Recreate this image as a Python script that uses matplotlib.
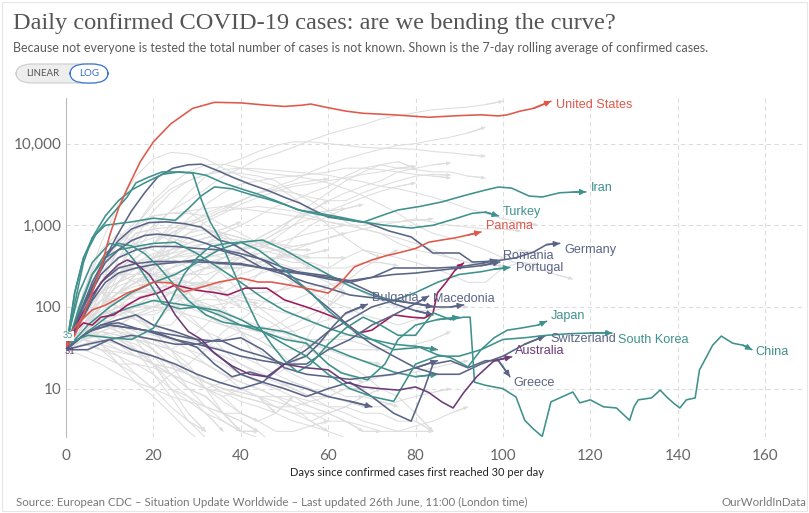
import matplotlib
matplotlib.use("Agg")
import matplotlib.pyplot as plt
from matplotlib.patches import FancyBboxPatch, Rectangle
from matplotlib.ticker import NullLocator

W, H = 809, 513

RED = "#e0584c"
TEAL = "#3f918c"
SLATE = "#5a6486"
PURPLE = "#6c3b78"
CRIMSON = "#a0195b"
GRAY = "#dedede"

# ---- highlighted countries: day since 30/day, 7-day average of confirmed cases ----
us_days = [0, 2, 4, 6, 8, 10, 12, 14, 17, 20, 24, 29, 34, 40, 46, 50, 54, 56, 60, 64, 68, 75, 83, 90, 95, 99, 101, 104, 107, 111]
us_vals = [32, 45, 80, 150, 300, 750, 1600, 2800, 6000, 10500, 17500, 27000, 32000, 31500, 29500, 28500, 29500, 30500,
           27500, 25000, 23500, 22500, 21000, 22000, 22500, 21800, 22500, 25000, 27000, 33000]

pan_days = [0, 1, 3, 6, 9, 11, 14, 17, 20, 24, 27, 31, 35, 40, 44, 47, 51, 56, 60, 63, 66, 70, 73, 76, 80, 83, 86, 89, 92, 95]
pan_vals = [33, 48, 65, 92, 105, 120, 148, 170, 202, 197, 153, 175, 202, 226, 202, 202, 186, 165, 148, 202, 309, 376,
            420, 458, 520, 620, 660, 700, 760, 829]

iran_days = [0, 2, 4, 6, 9, 12, 15, 20, 25, 28, 31, 34, 38, 42, 46, 50, 54, 58, 63, 68, 72, 76, 81, 86, 91, 96, 99, 102,
             106, 109, 113, 116, 119]
iran_vals = [30, 150, 400, 700, 1000, 1050, 1100, 1220, 1150, 1600, 2300, 2950, 2800, 2400, 2100, 1800, 1500, 1350, 1200,
             1090, 1300, 1540, 1700, 1930, 2300, 2700, 2940, 2850, 2280, 2220, 2500, 2550, 2560]

tur_days = [0, 2, 4, 6, 9, 12, 15, 18, 22, 26, 29, 32, 36, 40, 44, 48, 53, 58, 63, 68, 73, 79, 84, 89, 93, 96, 99]
tur_vals = [30, 110, 350, 700, 1300, 2000, 2700, 3300, 4200, 4500, 4400, 4100, 3300, 2800, 2400, 2000, 1550, 1400, 1250,
            1100, 1000, 925, 1000, 1200, 1400, 1450, 1300]

chn_days = [0, 2, 4, 7, 10, 14, 16, 19, 22, 25, 29, 31, 33, 35, 38, 41, 44, 47, 50, 53, 56, 60, 64, 68, 72, 76, 80, 84,
            88, 91, 92.5, 93.5, 96, 100, 103, 105, 107, 109, 111, 113, 116, 117.6, 120, 123, 126, 129, 130, 131, 134,
            136, 137.5, 139, 140.5, 142, 144, 145, 146.6, 148, 150, 152.6, 155, 157]
chn_vals = [30, 150, 400, 800, 1260, 2220, 3300, 3900, 4500, 4500, 4350, 2040, 1100, 720, 300, 130, 60, 35, 22, 16, 20,
            35, 55, 75, 60, 45, 45, 85, 70, 75, 75, 12, 11, 10, 7.9, 4.1, 3.2, 2.6, 6.9, 7.7, 9.1, 6.7, 7.3, 6.0, 5.8,
            4.1, 6.0, 7.3, 7.7, 9.6, 7.9, 6.7, 5.8, 7.3, 7.7, 17, 24.5, 34, 44, 36, 34, 30]

ger_days = [0, 3, 6, 9, 12, 15, 18, 21, 24.5, 28, 31, 35, 38, 42, 46, 50, 53.5, 57, 60, 65, 69, 74, 79, 84, 90, 93, 96,
            99, 103, 107, 110, 113]
ger_vals = [30, 80, 170, 400, 800, 1500, 2500, 3900, 5000, 5500, 5600, 4600, 3900, 3200, 2700, 2200, 1870, 1500, 1260,
            1150, 1070, 850, 720, 458, 458, 355, 360, 370, 400, 470, 580, 600]

rom_days = [0, 3, 6, 9, 12, 16, 20, 25, 30, 35, 40, 45, 50, 55, 60, 65, 70, 75, 80, 85, 90, 95, 98.6]
rom_vals = [30, 60, 120, 200, 260, 300, 330, 350, 380, 340, 330, 300, 270, 250, 230, 210, 230, 300, 300, 300, 310, 340, 376]

por_days = [0, 3, 6, 9, 12, 15, 18, 21, 24, 28, 32, 36, 40, 45, 50, 55, 60, 65, 70, 75, 80, 85, 90, 95, 99.3]
por_vals = [30, 80, 180, 350, 500, 650, 750, 780, 750, 700, 600, 500, 450, 380, 300, 250, 220, 200, 230, 250, 260, 280,
            300, 320, 355]

bul_days = [0, 5, 10, 15, 20, 25, 30, 35, 40, 45, 50, 55, 60, 65, 70, 75, 80, 83]
bul_vals = [30, 35, 40, 45, 40, 35, 35, 40, 30, 25, 20, 20, 30, 40, 60, 80, 110, 136]

mac_days = [0, 5, 10, 15, 20, 25, 30, 35, 40, 45, 50, 55, 60, 65, 70, 75, 80, 85, 88, 91]
mac_vals = [30, 30, 40, 30, 25, 20, 15, 12, 10, 12, 20, 30, 50, 70, 100, 120, 110, 100, 100, 106]

jpn_days = [0, 5, 10, 15, 20, 24, 27, 30, 33, 37, 40, 44, 48, 52, 56, 60, 65, 70, 75, 81, 85, 88, 92, 95, 98, 101, 104,
            108, 110]
jpn_vals = [35, 45, 42, 40, 55, 120, 250, 400, 550, 600, 620, 500, 350, 230, 150, 90, 55, 40, 30, 32, 26, 24, 18.5, 30,
            42, 52, 55, 60, 67]

kor_days = [0, 3, 6, 10, 13, 16, 19, 22, 26, 30, 35, 40, 45, 50, 55, 60, 65, 70, 75, 80, 85, 90, 95, 100, 105, 110, 115,
            120, 125]
kor_vals = [35, 150, 350, 600, 550, 350, 200, 110, 95, 100, 90, 70, 50, 35, 25, 15, 10, 8, 7, 20, 25, 25, 30, 40, 42,
            45, 47, 48, 48]

sui_days = [0, 3, 6, 9, 12, 15, 19, 23, 27, 31, 35, 38, 42, 46, 50, 54, 58, 62, 66, 70, 75, 80, 85, 90, 95, 100, 105,
            109.6]
sui_vals = [30, 80, 200, 400, 650, 900, 1080, 1100, 1050, 950, 660, 600, 450, 350, 250, 180, 120, 80, 50, 35, 25, 18,
            15, 15, 20, 25, 35, 44]

gre_days = [0, 4, 8, 12, 16, 20, 25, 30, 35, 40, 45, 50, 55, 60, 65, 70, 75, 79, 82, 84, 88, 92, 96, 99, 101.6]
gre_vals = [30, 45, 60, 70, 80, 60, 50, 40, 25, 15, 12, 10, 8, 10, 12, 8, 5, 4, 10, 20, 22, 18, 22, 22, 14]

aus_days = [0, 3, 6, 9, 12, 14, 16, 19, 22, 25, 28, 31, 34, 38, 42, 46, 50, 55, 60, 64, 68, 72, 76, 80, 83, 86, 88.6,
            91, 94, 98, 102]
aus_vals = [31, 70, 140, 230, 330, 376, 340, 250, 150, 80, 50, 40, 27, 19, 15, 14, 20, 18, 17, 12, 10.5, 10, 9.6, 10.5,
            9, 6.9, 5.8, 8.9, 14, 22, 24.5]

# highlighted but unlabelled
crm_days = [0, 2, 4, 6, 8, 11, 14, 17, 21, 25, 30, 34, 37, 41, 46, 50, 55, 59, 63, 67, 70, 75, 79, 82, 84, 85, 87, 89, 91]
crm_vals = [31, 50, 64, 60, 75, 80, 105, 130, 148, 186, 160, 150, 140, 170, 170, 122, 100, 84, 69, 48, 52, 80, 75, 73,
            84, 148, 200, 280, 345]
u1_days = [0, 3, 6, 9, 12, 15, 18, 21, 25, 28, 32, 36, 40, 45, 50, 55, 60, 65, 70, 75, 80, 85]
u1_vals = [30, 90, 250, 450, 600, 560, 450, 320, 180, 120, 80, 65, 60, 55, 50, 40, 32, 25, 20, 16, 14, 15]
u2_days = [0, 5, 10, 15, 20, 25, 30, 35, 40, 45, 50, 55, 60, 65, 70, 75, 80, 85, 90, 95, 98, 101.6]
u2_vals = [30, 60, 100, 150, 200, 250, 350, 500, 620, 660, 500, 350, 250, 180, 140, 120, 150, 200, 250, 270, 290, 305]
u3_days = [0, 5, 10, 15, 20, 25, 30, 35, 40, 45, 50, 55, 58, 61, 64, 69]
u3_vals = [30, 50, 60, 55, 50, 40, 35, 30, 25, 22, 20, 25, 36, 57, 84, 108]
u4_days = [0, 4, 8, 12, 16, 20, 25, 30, 35, 40, 45, 50, 55, 60, 65, 70, 75, 80, 84]
u4_vals = [30, 100, 250, 400, 500, 550, 550, 520, 500, 420, 300, 250, 200, 170, 140, 130, 120, 110, 100]
u5_days = [0, 4, 8, 12, 16, 20, 25, 30, 34, 38, 42, 46, 50, 55, 60, 65, 70]
u5_vals = [30, 45, 60, 64, 55, 48, 40, 32, 20, 14, 16, 14, 12, 10, 8, 7, 6]
u6_days = [0, 5, 10, 15, 20, 25, 30, 35, 40, 45, 50, 55, 60, 65, 70, 75, 80, 85]
u6_vals = [30, 50, 60, 55, 50, 45, 40, 38, 42, 30, 18, 15, 14, 13, 14, 15, 18, 22]
u7_days = [0, 5, 10, 15, 20, 25, 30, 35, 40, 45, 50, 55, 60, 63, 69, 73, 76, 80, 85, 90]
u7_vals = [30, 50, 80, 100, 120, 110, 100, 80, 60, 50, 40, 36, 20, 15.6, 12.8, 20, 40, 60, 70, 75]
u8_days = [0, 4, 8, 12, 16, 20, 25, 30, 35, 40, 45, 50, 55, 60, 65, 70, 75, 80, 84]
u8_vals = [30, 80, 200, 300, 340, 360, 360, 355, 350, 340, 300, 280, 260, 240, 200, 150, 110, 90, 80]
u9_days = [0, 3, 6, 9, 12, 16, 20, 25, 30, 35, 40, 45, 50, 55, 60, 65, 70, 75, 80, 85]
u9_vals = [30, 100, 250, 400, 500, 550, 600, 620, 450, 300, 200, 130, 90, 70, 55, 45, 40, 35, 33, 30]

# ---- other countries (grey), one value every GRAY_STEP days ----
GRAY_STEP = 4
g_brazil = [30, 60, 150, 300, 600, 1000, 1500, 2000, 2800, 4000, 5000, 6500, 7500, 9000, 11000, 13000, 15000, 17000,
            20000, 22000, 24000, 26000, 27000, 28000, 30000, 33000]
g_russia = [30, 50, 100, 250, 500, 900, 1500, 2500, 4000, 5500, 6500, 8000, 9500, 10500, 10500, 10000, 9500, 9000, 8800,
            8700, 8500, 8000, 7700, 7300, 7000]
g_india = [30, 50, 100, 200, 400, 600, 900, 1100, 1300, 1600, 2000, 2500, 3000, 3500, 4500, 5500, 6500, 7500, 8500,
           9500, 10000, 11000, 12000, 13500, 15900]
g_uk = [30, 60, 120, 300, 700, 1500, 2500, 3500, 4200, 4800, 5000, 4900, 4700, 4500, 4300, 4100, 3700, 3400, 3000, 2800,
        2500, 2200, 1900, 1600, 1400, 1200, 1100, 1000]
g_spain = [30, 150, 600, 1800, 4000, 6500, 7800, 7500, 6500, 5000, 4000, 3500, 3000, 2200, 1500, 1000, 700, 500, 450,
           400, 350, 300, 250, 200, 200, 300, 350, 330]
g_italy = [30, 80, 200, 500, 1000, 2000, 3200, 4500, 5500, 5600, 5000, 4500, 4200, 4000, 3700, 3300, 2800, 2300, 1800,
           1400, 1000, 800, 700, 600, 500, 400, 330, 300, 250, 220]
g_france = [30, 80, 200, 500, 1000, 1800, 2800, 3500, 4200, 4500, 4300, 4000, 3500, 2500, 2000, 1500, 1100, 900, 800,
            600, 500, 450, 400, 350, 330, 400, 500, 450]
g_peru = [30, 60, 100, 150, 250, 400, 700, 1200, 1800, 2500, 3200, 3500, 3800, 4000, 4200, 4500, 5000, 5000, 4800, 4500,
          4200, 4000, 3800]
g_chile = [30, 80, 150, 250, 300, 350, 400, 420, 450, 500, 500, 600, 800, 1200, 1800, 2500, 3500, 4500, 5500, 5000,
           4800, 4500, 4500, 4000, 3800]
g_mexico = [30, 60, 100, 150, 250, 400, 600, 800, 1100, 1400, 1800, 2200, 2600, 3000, 3200, 3500, 3800, 4200, 4500,
            5000, 5300]
g_canada = [30, 100, 300, 700, 1100, 1300, 1400, 1500, 1600, 1700, 1600, 1500, 1400, 1300, 1200, 1100, 1000, 900, 800,
            700, 600, 500, 400, 350, 330, 320]
g_saudi = [30, 80, 100, 120, 150, 300, 700, 1000, 1200, 1500, 2000, 2500, 2700, 2500, 2200, 2000, 2000, 2500, 3000,
           3500, 4000, 4200, 4100]
g_pakistan = [30, 80, 150, 200, 250, 300, 400, 500, 600, 800, 1000, 1300, 1700, 2000, 2500, 3000, 4000, 5000, 5500,
              6000, 5000]
g_safrica = [30, 100, 150, 100, 80, 80, 100, 150, 200, 300, 400, 500, 700, 1000, 1500, 2000, 2500, 3000, 3500, 4500,
             5000, 5500, 5800]
g_colombia = [30, 60, 100, 150, 200, 250, 250, 300, 350, 400, 500, 600, 800, 1000, 1200, 1500, 1800, 2200, 2600, 3000,
              3300]
g_bangladesh = [30, 100, 250, 400, 600, 700, 800, 1000, 1400, 1700, 2000, 2500, 2800, 3200, 3500, 3700]
g_belgium = [30, 100, 300, 600, 1000, 1300, 1400, 1400, 1300, 1000, 800, 600, 500, 400, 300, 250, 200, 150, 120, 100,
             90, 90, 100, 100]
g_netherlands = [30, 100, 300, 600, 900, 1100, 1100, 1000, 900, 700, 500, 350, 250, 200, 150, 120, 100, 80, 70, 60, 70,
                 80]
g_sweden = [30, 60, 100, 150, 250, 400, 500, 550, 600, 600, 600, 650, 600, 550, 600, 700, 800, 900, 1000, 1100, 1200,
            1100, 1000, 950, 900, 900, 850]
g_qatar = [30, 80, 150, 250, 400, 600, 800, 1000, 1200, 1500, 1600, 1700, 1600, 1500, 1300, 1100, 1000]
g_ecuador = [30, 100, 200, 300, 400, 600, 1000, 1500, 1000, 800, 700, 600, 500, 400, 300, 300, 400, 500, 400]
g_egypt = [30, 40, 60, 80, 100, 150, 200, 250, 300, 400, 500, 700, 900, 1200, 1400, 1500, 1600]
g_argentina = [30, 60, 80, 90, 100, 100, 120, 150, 200, 300, 500, 700, 900, 1200, 1500, 2000]
g_indonesia = [30, 60, 100, 150, 200, 250, 300, 350, 400, 450, 500, 550, 600, 700, 800, 900, 1000, 1000, 1100, 1100,
               1150, 1200]
g_philippines = [30, 50, 100, 200, 250, 250, 200, 200, 200, 200, 250, 300, 400, 500, 600, 700, 800]
g_belarus = [30, 100, 300, 500, 800, 900, 950, 900, 850, 800, 700, 600, 500, 400, 300]
g_ukraine = [30, 80, 150, 250, 350, 400, 450, 500, 450, 400, 400, 450, 500, 550, 600, 700, 800]
g_singapore = [30, 50, 100, 400, 800, 900, 700, 600, 700, 800, 500, 400, 350, 300, 250, 200, 150]
g_ireland = [30, 100, 250, 500, 700, 800, 650, 500, 350, 250, 150, 100, 70, 50, 30, 20, 15, 12]
g_israel = [30, 100, 300, 500, 600, 500, 400, 300, 200, 100, 50, 20, 15, 20, 50, 100, 200, 300, 400, 500]
g_kuwait = [30, 60, 100, 150, 200, 300, 500, 800, 900, 800, 700, 600, 600, 500, 500]
g_uae = [30, 60, 100, 200, 350, 450, 500, 600, 700, 750, 600, 500, 450, 400, 400, 400, 400]
g_dominican = [30, 60, 150, 250, 300, 300, 250, 250, 250, 300, 300, 350, 400, 400, 450, 500]
g_poland = [30, 80, 150, 250, 300, 350, 350, 350, 300, 300, 350, 400, 400, 350, 350, 300, 300, 350, 350, 320]
g_austria = [30, 150, 500, 800, 600, 400, 250, 150, 80, 60, 50, 40, 30, 30, 35, 40, 40, 35, 30, 30, 35, 40, 50]
g_czech = [30, 80, 200, 300, 300, 250, 200, 150, 100, 70, 60, 50, 50, 50, 60, 70, 80, 100]
g_denmark = [30, 100, 250, 250, 250, 250, 250, 200, 150, 120, 100, 80, 60, 40, 35, 30, 30, 30, 30]
g_norway = [30, 150, 300, 250, 200, 150, 100, 80, 50, 30, 20, 15, 12, 10, 8, 8, 10, 10]
g_finland = [30, 60, 120, 120, 130, 150, 150, 120, 100, 80, 50, 30, 20, 15, 12, 10, 8, 8]
g_croatia = [30, 50, 70, 60, 50, 30, 20, 10, 8, 5, 3, 3]
g_slovenia = [30, 40, 45, 40, 30, 20, 10, 8, 5, 4, 3]
g_luxembourg = [30, 100, 150, 120, 80, 50, 30, 15, 10, 8, 5, 4, 5, 8]
g_estonia = [30, 50, 60, 50, 40, 30, 15, 10, 8, 5, 3, 3]
g_iceland = [30, 60, 70, 50, 30, 15, 8, 4, 3]
g_newzealand = [30, 60, 70, 60, 40, 20, 10, 5, 3]
g_malaysia = [30, 100, 150, 150, 130, 120, 100, 70, 50, 40, 50, 40, 30, 20, 30, 25, 20, 15, 10, 8, 5, 3]
g_thailand = [30, 80, 120, 100, 80, 50, 30, 20, 10, 5, 3]
g_lithuania = [30, 50, 60, 50, 40, 30, 20, 15, 10, 8, 10, 8, 5]
g_hungary = [30, 50, 80, 100, 80, 60, 40, 30, 25, 20, 15, 12, 10, 12, 10, 8]
g_serbia = [30, 100, 200, 300, 300, 250, 150, 100, 80, 60, 50, 40, 50, 60, 80, 100, 150]
g_moldova = [30, 60, 100, 150, 180, 200, 200, 180, 150, 150, 200, 250, 300, 300, 300]
g_armenia = [30, 40, 50, 60, 80, 100, 150, 200, 300, 400, 500, 600, 650]
g_kazakhstan = [30, 50, 80, 100, 120, 150, 200, 250, 300, 300, 300, 350, 400]
g_oman = [30, 60, 100, 150, 200, 300, 500, 700, 800, 900, 1100]
g_bahrain = [30, 60, 100, 150, 200, 300, 400, 450, 500, 500, 450]
g_algeria = [30, 60, 80, 100, 110, 120, 150, 170, 180, 150, 130, 120, 110, 120, 150, 170]
g_morocco = [30, 60, 100, 150, 150, 150, 150, 120, 100, 80, 60, 50, 60, 80, 100, 150, 200]
g_iraq = [30, 40, 50, 45, 40, 35, 30, 40, 60, 100, 150, 250, 400, 700, 1000, 1300, 1600, 1800]
g_afghanistan = [30, 50, 80, 100, 150, 250, 400, 500, 600, 700, 650, 550, 500, 450, 400]
g_nigeria = [30, 60, 100, 150, 200, 250, 300, 350, 400, 450, 500, 550, 600]
g_ghana = [30, 60, 100, 150, 150, 200, 250, 300, 350, 300, 300, 350, 400]
g_cameroon = [30, 50, 80, 100, 80, 60, 100, 150, 200, 150, 100]
g_senegal = [30, 50, 70, 80, 90, 100, 100, 110, 100, 110, 120, 110]
g_kenya = [30, 40, 50, 60, 80, 100, 120, 150, 180, 200]
g_honduras = [30, 40, 60, 80, 100, 150, 200, 250, 300, 350, 400, 450]
g_guatemala = [30, 50, 80, 120, 150, 200, 300, 400, 500, 550, 600]
g_bolivia = [30, 60, 100, 150, 250, 350, 450, 600, 700, 800]
g_azerbaijan = [30, 50, 80, 100, 80, 60, 60, 100, 150, 200, 300, 350, 400, 450]
g_nepal = [30, 80, 150, 200, 300, 400, 450]
g_sudan = [30, 60, 100, 150, 200, 220, 200, 200, 180, 170]
g_elsalvador = [30, 50, 70, 90, 100, 120, 150, 180, 200]
g_haiti = [30, 50, 80, 120, 150, 170, 180, 170]
g_costarica = [30, 40, 35, 20, 15, 10, 15, 20, 30, 50, 70, 100, 150, 200]
g_cuba = [30, 40, 45, 40, 35, 25, 15, 10, 8, 5, 5, 4]
g_mid1 = [30, 50, 80, 100, 110, 100, 90, 80, 70, 60, 55, 50, 45, 40, 35, 30, 25, 22, 20]
g_mid2 = [30, 60, 90, 120, 150, 160, 150, 130, 110, 90, 70, 60, 50, 45, 40, 40, 45, 50]
g_mid3 = [30, 40, 55, 70, 75, 90, 95, 110, 125, 120, 140, 150, 155, 175, 180, 185, 210, 220, 240]
g_mid4 = [30, 70, 120, 180, 220, 240, 230, 200, 170, 140, 120, 100, 90, 80, 70]
g_low1 = [30, 40, 35, 25, 15, 10, 6, 4, 2.5, 2]
g_low2 = [30, 50, 45, 40, 30, 20, 12, 8, 6, 5, 4, 3, 2]
g_low3 = [30, 35, 30, 20, 12, 8, 5, 3, 2]
g_low4 = [30, 45, 60, 55, 45, 35, 25, 18, 12, 9, 7, 6, 5, 4, 3.5, 3, 2.5]
g_low5 = [30, 25, 20, 15, 12, 10, 8, 7, 6, 5, 4, 3]
g_low6 = [30, 60, 80, 90, 70, 50, 40, 30, 20, 15, 10, 8, 6, 5, 4, 5, 6, 8, 10]
g_low7 = [30, 40, 50, 45, 40, 35, 30, 25, 20, 15, 12, 10, 8, 6, 4, 3]
g_low8 = [30, 35, 40, 30, 25, 20, 18, 15, 12, 10, 9, 8, 7, 6, 5, 5, 4, 3]
g_low9 = [30, 50, 70, 80, 70, 60, 50, 40, 35, 30, 25, 20, 15, 12, 10, 8, 7, 6, 6, 7, 8, 9, 10]
g_low10 = [30, 40, 35, 30, 25, 25, 20, 15, 10, 7, 5, 4, 3, 3, 3.5, 4]
g_low11 = [30, 35, 30, 28, 25, 20, 18, 15, 12, 10, 8, 7, 6, 5, 5, 4, 4, 3.5, 3, 3, 3.5, 4, 5, 6]
g_low12 = [30, 45, 50, 40, 30, 25, 20, 15, 12, 10, 9, 8, 8, 7, 6, 5, 4, 3, 3]
g_low13 = [30, 40, 45, 50, 45, 40, 30, 25, 20, 15, 12, 10, 8, 8, 7, 6, 6, 5, 5, 4, 4, 3]
g_low14 = [30, 50, 40, 35, 30, 20, 15, 12, 10, 12, 15, 12, 10, 8, 6, 5, 6, 8, 7, 6]
g_low15 = [30, 35, 40, 35, 25, 20, 15, 10, 6, 4, 3, 2.5]
g_low16 = [30, 60, 70, 60, 50, 45, 40, 35, 30, 25, 20, 16, 13, 10, 8, 6, 5, 4, 3.5, 3, 3, 3]
g_low17 = [30, 30, 25, 20, 20, 18, 15, 12, 10, 9, 8, 7, 6, 6, 7, 8, 10, 12, 14, 15, 16, 18, 20, 22]
g_low18 = [30, 40, 30, 25, 20, 15, 10, 7, 5, 3]

gray_series = [
    g_brazil, g_russia, g_india, g_uk, g_spain, g_italy, g_france, g_peru, g_chile, g_mexico, g_canada, g_saudi,
    g_pakistan, g_safrica, g_colombia, g_bangladesh, g_belgium, g_netherlands, g_sweden, g_qatar, g_ecuador, g_egypt,
    g_argentina, g_indonesia, g_philippines, g_belarus, g_ukraine, g_singapore, g_ireland, g_israel, g_kuwait, g_uae,
    g_dominican, g_poland, g_austria, g_czech, g_denmark, g_norway, g_finland, g_croatia, g_slovenia, g_luxembourg,
    g_estonia, g_iceland, g_newzealand, g_malaysia, g_thailand, g_lithuania, g_hungary, g_serbia, g_moldova,
    g_armenia, g_kazakhstan, g_oman, g_bahrain, g_algeria, g_morocco, g_iraq, g_afghanistan, g_nigeria, g_ghana,
    g_cameroon, g_senegal, g_kenya, g_honduras, g_guatemala, g_bolivia, g_azerbaijan, g_nepal, g_sudan,
    g_elsalvador, g_haiti, g_costarica, g_cuba, g_mid1, g_mid2, g_mid3, g_mid4,
    g_low1, g_low2, g_low3, g_low4, g_low5, g_low6, g_low7, g_low8, g_low9, g_low10,
    g_low11, g_low12, g_low13, g_low14, g_low15, g_low16, g_low17, g_low18,
]

unlabelled = [
    (u4_days, u4_vals, SLATE), (u8_days, u8_vals, SLATE), (u9_days, u9_vals, TEAL), (u1_days, u1_vals, TEAL),
    (u2_days, u2_vals, TEAL), (u3_days, u3_vals, SLATE), (u5_days, u5_vals, SLATE), (u6_days, u6_vals, SLATE),
    (u7_days, u7_vals, TEAL), (crm_days, crm_vals, CRIMSON),
]
labelled = [
    (sui_days, sui_vals, SLATE), (gre_days, gre_vals, SLATE), (bul_days, bul_vals, SLATE),
    (mac_days, mac_vals, SLATE), (rom_days, rom_vals, SLATE), (por_days, por_vals, SLATE),
    (ger_days, ger_vals, SLATE), (kor_days, kor_vals, TEAL), (jpn_days, jpn_vals, TEAL),
    (chn_days, chn_vals, TEAL), (tur_days, tur_vals, TEAL), (iran_days, iran_vals, TEAL),
    (aus_days, aus_vals, PURPLE), (pan_days, pan_vals, RED), (us_days, us_vals, RED),
]

# end-of-line labels: text, day, value, colour
end_labels = [
    ("United States", 112.1, 29700, RED), ("Iran", 120.1, 2860, TEAL), ("Turkey", 100.0, 1455, TEAL),
    ("Panama", 96.1, 980, RED), ("Germany", 114.0, 499, SLATE), ("Romania", 100.0, 425, SLATE),
    ("Portugal", 103.0, 298, SLATE), ("Bulgaria", 70.0, 129, SLATE), ("Macedonia", 84.0, 125, SLATE),
    ("Japan", 111.0, 77.6, TEAL), ("Switzerland", 110.8, 40.7, SLATE), ("South Korea", 126.3, 39.5, TEAL),
    ("China", 157.9, 28.1, TEAL), ("Australia", 102.7, 28.9, PURPLE), ("Greece", 102.5, 11.7, SLATE),
]


def fx(px):
    return px / W


def fy(py):
    return 1 - py / H


fig = plt.figure(figsize=(W / 100, H / 100), dpi=100)
fig.patch.set_facecolor("white")
ax = fig.add_axes([fx(66), fy(437), (805 - 66) / W, (437 - 98) / H])
ax.set_yscale("log")
ax.set_xlim(0, (805 - 66) / 4.369)
ax.set_ylim(2.56, 36150)


def draw_series(days, vals, color, lw, z, head):
    ax.plot(days, vals, color=color, lw=lw, zorder=z, solid_joinstyle="round", solid_capstyle="round")
    ax.annotate("", xy=(days[-1], vals[-1]), xytext=(days[-2], vals[-2]),
                arrowprops=dict(arrowstyle="-|>", color=color, lw=lw, mutation_scale=head,
                                shrinkA=0, shrinkB=0), zorder=z)


for vals in gray_series:
    days = [GRAY_STEP * i for i in range(len(vals))]
    draw_series(days, vals, GRAY, 0.75, 1, 5)

for days, vals, color in unlabelled + labelled:
    draw_series(days, vals, color, 1.15, 3, 8)

for text, d, v, color in end_labels:
    ax.text(d, v, text, color=color, fontsize=9.1, family="Liberation Sans", va="center", ha="left", zorder=5)

ax.set_xticks(range(0, 161, 20))
ax.set_yticks([10, 100, 1000, 10000])
ax.set_yticklabels(["10", "100", "1,000", "10,000"])
ax.yaxis.set_minor_locator(NullLocator())
ax.tick_params(length=0, labelsize=11, labelcolor="#666666", pad=3)
ax.tick_params(axis="x", pad=9)
for lab in ax.get_xticklabels() + ax.get_yticklabels():
    lab.set_family("Lato")
ax.grid(True, linestyle=(0, (4, 3)), color="#dddddd", lw=0.8, zorder=0)
for side in ["top", "right", "bottom"]:
    ax.spines[side].set_visible(False)
ax.spines["left"].set_color("#bbbbbb")

# start-value labels
fig.text(fx(68), fy(336), "35", color=TEAL, fontsize=6.5, family="Lato", ha="center", va="center", zorder=10,
         bbox=dict(facecolor="white", edgecolor="none", pad=0.6))
fig.text(fx(70), fy(352), "31", color=PURPLE, fontsize=6.5, family="Lato", ha="center", va="center", zorder=10)

# header
fig.text(fx(13), fy(24), "Daily confirmed COVID-19 cases: are we bending the curve?", family="Liberation Serif",
         fontsize=17.6, color="#555555", va="center", ha="left")
fig.text(fx(13), fy(48), "Because not everyone is tested the total number of cases is not known. "
         "Shown is the 7-day rolling average of confirmed cases.", family="Lato", fontsize=9, color="#5b5b5b",
         va="center", ha="left")

# LINEAR / LOG toggle
fig.patches.append(FancyBboxPatch((fx(16), fy(83)), fx(92), (83 - 64) / H, transform=fig.transFigure,
                                  boxstyle="round,pad=0,rounding_size=0.02", facecolor="#eeeeee",
                                  edgecolor="#cccccc", lw=0.8))
fig.patches.append(FancyBboxPatch((fx(70), fy(83)), fx(38), (83 - 64) / H, transform=fig.transFigure,
                                  boxstyle="round,pad=0,rounding_size=0.02", facecolor="white",
                                  edgecolor="#3b74d1", lw=0.9))
fig.text(fx(43), fy(74), "LINEAR", family="Lato", fontsize=7, color="#555555", ha="center", va="center")
fig.text(fx(89), fy(74), "LOG", family="Lato", fontsize=7, color="#3b6bc4", ha="center", va="center")

# axis title and footer
fig.text(fx(417), fy(472), "Days since confirmed cases first reached 30 per day", family="Lato", fontsize=8,
         color="#222222", ha="center", va="center")
fig.text(fx(16), fy(502), "Source: European CDC \u2013 Situation Update Worldwide \u2013 Last updated 26th June, "
         "11:00 (London time)", family="Lato", fontsize=8.3, color="#777777", ha="left", va="center")
fig.text(fx(806), fy(502), "OurWorldInData", family="Lato", fontsize=8.3, color="#777777", ha="right", va="center")

fig.patches.append(Rectangle((fx(2), fy(511)), fx(805), (511 - 2) / H, transform=fig.transFigure,
                             facecolor="none", edgecolor="#e6e6e6", lw=0.8))

fig.savefig("out.png", dpi=100)
